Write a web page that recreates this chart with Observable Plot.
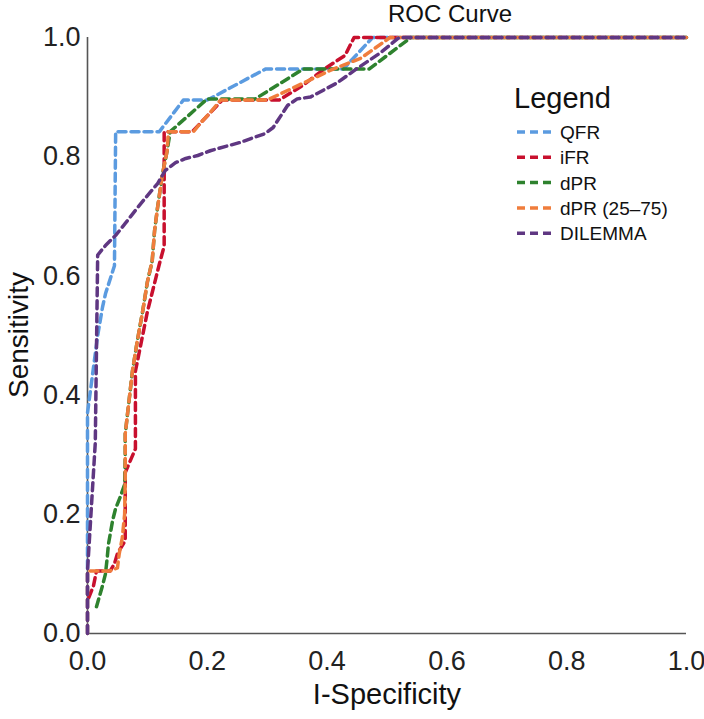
<!DOCTYPE html>
<html><head><meta charset="utf-8">
<script src="https://cdn.jsdelivr.net/npm/d3@7"></script>
<script src="https://cdn.jsdelivr.net/npm/@observablehq/plot@0.6"></script>
<style>body{margin:0;background:#fff;font-family:"Liberation Sans",Arial,sans-serif}</style>
</head><body><div id="chart"></div>
<script>
const seriesNames = ["QFR", "iFR", "dPR", "dPR (25–75)", "DILEMMA"];
const seriesColors = ["#5b9be0", "#c8102e", "#2e822e", "#f07d3c", "#5f3782"];

const qfrFpr = [0, 0, 0.017, 0.025, 0.03, 0.045, 0.047, 0.12, 0.16, 0.2, 0.297, 0.427, 0.476, 1];
const qfrTpr = [0, 0.37, 0.5, 0.547, 0.57, 0.617, 0.842, 0.842, 0.895, 0.895, 0.947, 0.947, 1, 1];

const ifrFpr = [0.002, 0.01, 0.015, 0.038, 0.045, 0.05, 0.063, 0.063, 0.08, 0.08, 0.1, 0.12, 0.128, 0.128, 0.175, 0.225, 0.32, 0.36, 0.395, 0.43, 0.445, 1];
const ifrTpr = [0.06, 0.08, 0.105, 0.105, 0.117, 0.134, 0.156, 0.27, 0.31, 0.44, 0.54, 0.62, 0.65, 0.842, 0.842, 0.895, 0.895, 0.92, 0.947, 0.97, 1, 1];

const dprFpr = [0.015, 0.025, 0.03, 0.033, 0.035, 0.042, 0.047, 0.055, 0.062, 0.063, 0.063, 0.075, 0.083, 0.092, 0.1, 0.108, 0.112, 0.117, 0.125, 0.133, 0.138, 0.2, 0.28, 0.36, 0.47, 0.54, 1];
const dprTpr = [0.045, 0.08, 0.1, 0.128, 0.15, 0.19, 0.21, 0.23, 0.25, 0.3, 0.335, 0.44, 0.49, 0.54, 0.59, 0.625, 0.676, 0.715, 0.77, 0.81, 0.842, 0.897, 0.897, 0.947, 0.947, 1, 1];

const dpr2575Fpr = [0, 0, 0.038, 0.05, 0.053, 0.058, 0.062, 0.063, 0.063, 0.075, 0.083, 0.092, 0.1, 0.108, 0.112, 0.117, 0.125, 0.133, 0.135, 0.177, 0.189, 0.205, 0.222, 0.3, 0.41, 0.456, 0.505, 1];
const dpr2575Tpr = [0, 0.105, 0.105, 0.11, 0.134, 0.16, 0.2, 0.26, 0.335, 0.44, 0.49, 0.54, 0.59, 0.625, 0.676, 0.715, 0.77, 0.81, 0.842, 0.842, 0.857, 0.874, 0.895, 0.895, 0.947, 0.965, 1, 1];

const dilemmaFpr = [0, 0, 0.013, 0.017, 0.03, 0.047, 0.063, 0.08, 0.097, 0.117, 0.13, 0.147, 0.164, 0.184, 0.205, 0.255, 0.297, 0.31, 0.334, 0.35, 0.372, 0.417, 0.45, 0.49, 0.52, 1];
const dilemmaTpr = [0, 0.105, 0.32, 0.635, 0.651, 0.668, 0.688, 0.71, 0.731, 0.755, 0.777, 0.79, 0.797, 0.802, 0.81, 0.824, 0.839, 0.849, 0.886, 0.897, 0.9, 0.924, 0.948, 0.975, 1, 1];

const axisTicks = [0, 0.2, 0.4, 0.6, 0.8, 1.0];

const seriesFpr = [qfrFpr, ifrFpr, dprFpr, dpr2575Fpr, dilemmaFpr];
const seriesTpr = [qfrTpr, ifrTpr, dprTpr, dpr2575Tpr, dilemmaTpr];
const rows = [];
seriesNames.forEach((name, i) => {
  seriesFpr[i].forEach((fx, j) => rows.push({series: name, fpr: fx, tpr: seriesTpr[i][j]}));
});

const W = 704, H = 719, mL = 87, mR = 18, mT = 37, mB = 86;
const chart = Plot.plot({
  width: W, height: H,
  marginLeft: mL, marginRight: mR, marginTop: mT, marginBottom: mB,
  style: {fontFamily: '"Liberation Sans", Arial, sans-serif', fontSize: "27px", background: "#fff", color: "#222"},
  x: {domain: [0, 1], ticks: axisTicks, tickFormat: d3.format(".1f"), tickSize: 0, tickPadding: 17, label: null},
  y: {domain: [0, 1], ticks: axisTicks, tickFormat: d3.format(".1f"), tickSize: 0, tickPadding: 7, label: null},
  color: {domain: seriesNames, range: seriesColors},
  marks: [
    Plot.ruleX([0], {stroke: "#555", strokeWidth: 1.6}),
    Plot.ruleY([0], {stroke: "#555", strokeWidth: 1.6}),
    Plot.line(rows, {x: "fpr", y: "tpr", z: "series", stroke: "series", strokeWidth: 3.5, strokeDasharray: "8,5"})
  ]
});
document.getElementById("chart").appendChild(chart);

const svg = d3.select(chart);
const ff = '"Liberation Sans", Arial, sans-serif';
svg.append("text").attr("x", 450).attr("y", 22).attr("text-anchor", "middle")
  .attr("font-size", 24).attr("font-family", ff).attr("fill", "#111").text("ROC Curve");
svg.append("text").attr("transform", "translate(28,335) rotate(-90)").attr("text-anchor", "middle")
  .attr("font-size", 28).attr("font-family", ff).attr("fill", "#111").text("Sensitivity");
svg.append("text").attr("x", 387).attr("y", 704).attr("text-anchor", "middle")
  .attr("font-size", 29).attr("font-family", ff).attr("fill", "#111").text("I-Specificity");

const lg = svg.append("g").attr("text-anchor", "start");
lg.append("text").attr("x", 514).attr("y", 108).attr("font-size", 29).attr("font-family", ff)
  .attr("text-anchor", "start").attr("fill", "#111").text("Legend");
seriesNames.forEach((name, i) => {
  const yy = 132 + i * 25.3;
  lg.append("line").attr("x1", 517).attr("x2", 553).attr("y1", yy).attr("y2", yy)
    .attr("stroke", seriesColors[i]).attr("stroke-width", 3.5).attr("stroke-dasharray", "8,5");
  lg.append("text").attr("x", 560).attr("y", yy + 7).attr("font-size", 19).attr("font-family", ff)
    .attr("text-anchor", "start").attr("fill", "#111").text(name);
});
</script>
</body></html>
